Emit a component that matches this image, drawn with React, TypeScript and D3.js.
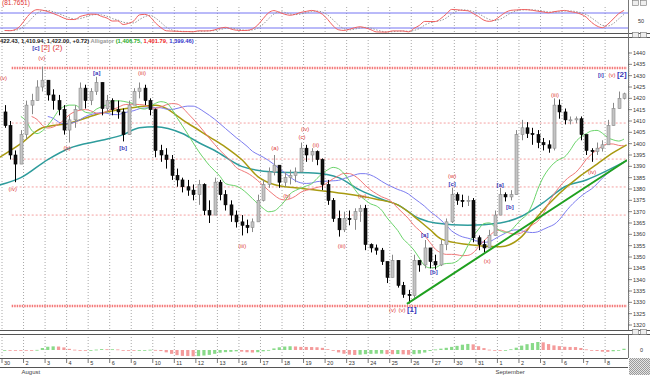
import * as d3 from 'd3'

// ---------- data ----------
const dayLabels = ['30', '2', '3', '4', '5', '6', '9', '10', '11', '12', '13', '16', '17', '18', '19', '20',
  '23', '24', '25', '26', '27', '30', '31', '1', '2', '3', '6', '7', '8']
const months = [{ tick: 1, name: 'August' }, { tick: 23, name: 'September' }]
const barsPerDay = 4

const opens = [1414, 1408, 1395, 1391, 1404, 1417, 1419, 1425, 1428, 1421.5,
  1419, 1415, 1406, 1410.5, 1415, 1424.5, 1419, 1423, 1427, 1415.5,
  1419, 1415, 1414, 1404, 1417, 1423, 1424.5, 1419, 1415, 1397,
  1395, 1393, 1386, 1384, 1381, 1379.5, 1377.5, 1382, 1370.5, 1368.5,
  1383, 1377.5, 1373, 1368.5, 1365.5, 1364, 1363, 1365.5, 1375, 1382,
  1387.5, 1390.5, 1383, 1385, 1386, 1387.5, 1398, 1395, 1396.5, 1393,
  1382, 1375, 1367, 1362, 1367, 1366.5, 1370, 1371.5, 1355.5, 1354,
  1353, 1348, 1341, 1348.5, 1337.5, 1333.5, 1333, 1348.5, 1346.5, 1354,
  1348, 1346.5, 1355.5, 1365.5, 1377.5, 1375, 1374.5, 1375, 1358.5, 1355.5,
  1354, 1359.5, 1368.5, 1377.5, 1376.5, 1377.5, 1404, 1407, 1404.5, 1404,
  1400.5, 1399.5, 1398, 1417, 1414, 1410.5, 1410.5, 1411, 1404, 1397,
  1396.5, 1398, 1399.5, 1408, 1415.5, 1420]
const highs = [1417, 1410, 1397, 1406, 1419, 1422, 1428, 1434, 1428, 1424,
  1421.5, 1417, 1412.5, 1417, 1427, 1426, 1424.5, 1429.5, 1426, 1421.5,
  1420, 1419, 1415.5, 1419, 1424.5, 1427, 1426, 1420, 1415.5, 1399.5,
  1398, 1395, 1389, 1385, 1384, 1382, 1384, 1382.5, 1375, 1385,
  1384, 1379.5, 1375, 1370.5, 1368.5, 1366.5, 1367, 1377.5, 1384, 1389.5,
  1395, 1390.5, 1387.5, 1388.5, 1389.5, 1400.5, 1399.5, 1398, 1397, 1393.5,
  1384, 1376, 1370.5, 1370, 1370.5, 1371.5, 1373, 1373, 1356, 1355.5,
  1354, 1348, 1351, 1348.5, 1339, 1335.5, 1351, 1348.5, 1357.5, 1354,
  1351, 1357.5, 1367, 1380.5, 1378.5, 1377.5, 1377, 1376, 1359.5, 1357.5,
  1362, 1370.5, 1380.5, 1378.5, 1379.5, 1406, 1410.5, 1409.5, 1407, 1406,
  1402.5, 1401.5, 1420, 1419.5, 1415.5, 1412, 1412, 1412, 1404, 1398,
  1400.5, 1401.5, 1410.5, 1418, 1423, 1422.5]
const lows = [1407, 1393, 1383, 1391, 1402, 1413, 1419, 1423, 1419, 1415,
  1412.5, 1404, 1400.5, 1407, 1417, 1415.5, 1417, 1421.5, 1412.5, 1414,
  1412.5, 1411, 1401, 1408, 1417, 1420, 1417, 1412.5, 1394, 1392,
  1389, 1384, 1381, 1378.5, 1377, 1375, 1373, 1368.5, 1365, 1373,
  1375, 1370.5, 1365.5, 1363, 1359.5, 1360.5, 1361, 1365.5, 1374.5, 1380.5,
  1386, 1380.5, 1381, 1382, 1383, 1387.5, 1392, 1392, 1390.5, 1379.5,
  1373, 1365.5, 1359, 1361, 1364, 1362, 1365.5, 1353, 1352, 1351,
  1346.5, 1338.5, 1342, 1336.5, 1332, 1329.5, 1332, 1343.5, 1345, 1345,
  1344.5, 1346, 1353, 1365, 1373, 1372, 1372.5, 1356.5, 1353, 1352,
  1354, 1359.5, 1368.5, 1374.5, 1375, 1377.5, 1401.5, 1402.5, 1399.5, 1398,
  1397, 1396, 1397, 1411, 1408.5, 1408.5, 1409, 1401.5, 1395, 1392,
  1395, 1396.5, 1400.5, 1408, 1415.5, 1419.5]
const closes = [1408, 1395, 1391, 1404, 1417, 1419, 1425, 1428, 1421.5, 1419,
  1415, 1406, 1410.5, 1415, 1424.5, 1419, 1423, 1427, 1415.5, 1419,
  1415, 1414, 1404, 1417, 1423, 1424.5, 1419, 1415, 1397, 1395,
  1393, 1386, 1384, 1381, 1379.5, 1377.5, 1382, 1370.5, 1368.5, 1383,
  1377.5, 1373, 1368.5, 1365.5, 1364, 1363, 1365.5, 1375, 1382, 1387.5,
  1390.5, 1383, 1385, 1386, 1387.5, 1398, 1395, 1396.5, 1393, 1382,
  1375, 1367, 1362, 1367, 1366.5, 1370, 1371.5, 1355.5, 1354, 1353,
  1348, 1341, 1348.5, 1337.5, 1333.5, 1333, 1348.5, 1346.5, 1354, 1348,
  1346.5, 1355.5, 1365.5, 1377.5, 1375, 1374.5, 1375, 1358.5, 1355.5, 1354,
  1359.5, 1368.5, 1377.5, 1376.5, 1377.5, 1404, 1407, 1404.5, 1404, 1400.5,
  1399.5, 1398, 1417, 1414, 1410.5, 1410.5, 1411, 1404, 1397, 1396.5,
  1398, 1399.5, 1408, 1415.5, 1420, 1422]

// retracement levels
const fibLevels = [1433.4, 1409.1, 1393.2, 1380.9, 1368.5, 1328.4]
const fibMain = [1433.4, 1328.4]
const fibStartBar = 1.8

// the two long averages, [bar, price]
const oliveMA: [number, number][] = [[-0.9, 1394], [3, 1400], [7, 1407], [12, 1409], [18, 1413.5], [24, 1416],
  [28, 1417], [34, 1409], [38, 1403], [41, 1398.5], [44, 1393], [47, 1385.5], [50, 1382], [54, 1380.5],
  [58, 1379.5], [63, 1378], [69, 1375.5], [73, 1373], [77, 1366], [79, 1362], [81, 1358], [86, 1355.5],
  [92, 1354.5], [96, 1359], [99, 1368], [103, 1378], [107, 1386], [110, 1391], [113, 1396], [115.5, 1399.5]]
const tealMA: [number, number][] = [[-0.9, 1381.8], [3, 1385], [8, 1393], [12, 1398], [18, 1401.5], [22, 1404],
  [25, 1407], [28, 1407.5], [33, 1404.5], [36, 1400.5], [39, 1397], [44, 1390], [50, 1387.5], [58, 1387],
  [62, 1385], [66, 1379.5], [70, 1375.5], [73, 1373], [77, 1367], [80, 1365], [86, 1364], [92, 1365],
  [96, 1368], [100, 1374], [104, 1381], [108, 1384], [110, 1386], [115.5, 1392.5]]

const trendLine: [number, number][] = [[74.7, 1329.3], [115.6, 1392.8]]

const redWaves = [
  { bar: -0.2, value: 1429, text: '(v)' }, { bar: 1.5, value: 1380, text: '(iv)' },
  { bar: 6.9, value: 1437.8, text: '(v)' }, { bar: 7.6, value: 1442.2, text: '[2]' },
  { bar: 9.8, value: 1442.2, text: '(2)' }, { bar: 11.6, value: 1398.1, text: '(b)' },
  { bar: 25.5, value: 1431.2, text: '(iii)' }, { bar: 44.1, value: 1354.9, text: '(iii)' },
  { bar: 50.2, value: 1398.1, text: '(a)' }, { bar: 52.4, value: 1376.9, text: '(b)' },
  { bar: 55.2, value: 1402.9, text: '(c)' }, { bar: 55.8, value: 1406.5, text: '(iv)' },
  { bar: 57.8, value: 1399.4, text: '(ii)' }, { bar: 62.6, value: 1354.9, text: '(iii)' },
  { bar: 66.4, value: 1376.9, text: '(iv)' }, { bar: 72.0, value: 1326.6, text: '(v)' },
  { bar: 73.8, value: 1326.6, text: '(v)' }, { bar: 83.1, value: 1385.7, text: '(w)' },
  { bar: 89.6, value: 1348.3, text: '(x)' }, { bar: 102.2, value: 1421.5, text: '(iii)' },
  { bar: 109.1, value: 1387.5, text: '(iv)' }, { bar: 112.8, value: 1430.3, text: '(v)' },
]
const blueWaves = [
  { bar: 5.8, value: 1442.2, text: '[c]' }, { bar: 17.1, value: 1431.2, text: '[a]' },
  { bar: 22.0, value: 1398.1, text: '[b]' }, { bar: 75.6, value: 1326.6, text: '[1]' },
  { bar: 78.0, value: 1359.7, text: '[a]' }, { bar: 79.7, value: 1343.4, text: '[b]' },
  { bar: 83.1, value: 1382.4, text: '[c]' }, { bar: 92.0, value: 1381.8, text: '[a]' },
  { bar: 93.8, value: 1372.1, text: '[b]' }, { bar: 110.7, value: 1430.3, text: '[i]' },
  { bar: 114.6, value: 1430.3, text: '[2]' },
]

const quote = '422.43, 1,410.94, 1,422.00, +0.72)'
const alligatorVals = ['1,406.75,', '1,401.79,', '1,399.46)']
const stochTitle = '(81.7651)'

// ---------- helpers ----------
const sma = (a: number[], n: number) => a.map((_, i) => d3.mean(a.slice(Math.max(0, i - n + 1), i + 1)) as number)
const smma = (a: number[], n: number) => {
  const out: number[] = []
  a.forEach((v, i) => out.push(i === 0 ? v : (out[i - 1] * (n - 1) + v) / n))
  return out
}

const FONT = "'Liberation Sans', Arial, sans-serif"
const PR = 627 // right edge of plotting area
const AX = 628 // right axis

export default function App() {
  const N = closes.length
  const x = d3.scaleLinear().domain([0, N]).range([2, 2 + N * 5.385])
  const cx = (b: number) => x(b + 0.5)
  const yP = d3.scaleLinear().domain([1320, 1440]).range([325, 53])
  const yS = d3.scaleLinear().domain([0, 100]).range([33, 8])

  const median = highs.map((h, i) => (h + lows[i]) / 2)
  const shifted = (s: number[], sh: number) => d3.range(sh, N).map(k => [k, s[k - sh]] as [number, number])
  const jaw = shifted(smma(median, 13), 8)
  const teeth = shifted(smma(median, 8), 5)
  const lips = shifted(smma(median, 5), 3)
  const pLine = d3.line<[number, number]>().x(d => cx(d[0])).y(d => yP(d[1])).curve(d3.curveMonotoneX)

  // stochastic (top panel)
  const rawK = closes.map((c, i) => {
    const lo = d3.min(lows.slice(Math.max(0, i - 13), i + 1))!
    const hi = d3.max(highs.slice(Math.max(0, i - 13), i + 1))!
    return hi === lo ? 50 : ((c - lo) / (hi - lo)) * 100
  })
  const kLine = sma(rawK, 3)
  const dLine = sma(kLine, 3)
  const oLine = d3.line<number>().x((_, i) => cx(i)).y(d => yS(d)).curve(d3.curveMonotoneX)

  // oscillator histogram (bottom panel)
  const fast = sma(median, 5)
  const slow = sma(median, 13)
  const ao = fast.map((v, i) => v - slow[i])
  const aoMax = d3.max(ao, d => Math.abs(d))!
  const yA = d3.scaleLinear().domain([-aoMax, aoMax]).range([358, 342])

  const ticks = dayLabels.map((_, i) => x(i * barsPerDay))
  const priceTicks = d3.range(1320, 1441, 5)
  const minorTicks = d3.range(1320, 1441, 1)

  const waveSize = (t: string) => (t === '(2)' || t === '[1]' || t === '[2]' ? 8 : 6)

  const strip = (y: number) => (
    <g>
      <rect x={0} y={y} width={650} height={4} fill="#fff" />
      <line x1={0} x2={650} y1={y + 0.5} y2={y + 0.5} stroke="#555" />
      <line x1={0} x2={650} y1={y + 4.5} y2={y + 4.5} stroke="#555" />
      <rect x={632.5} y={y - 0.5} width={6} height={5} fill="#eee" stroke="#777" strokeWidth={0.6} />
      <rect x={640.5} y={y - 0.5} width={6} height={5} fill="#eee" stroke="#777" strokeWidth={0.6} />
    </g>
  )

  return (
    <svg width={650} height={375} style={{ position: 'absolute', left: 0, top: 0, background: '#fff' }} fontFamily={FONT}>
      <defs>
        <clipPath id="pc"><rect x={0} y={38} width={PR} height={292} /></clipPath>
        <clipPath id="sc"><rect x={0} y={7} width={PR} height={26} /></clipPath>
        <clipPath id="ac"><rect x={0} y={339} width={PR} height={19} /></clipPath>
        <pattern id="chk" width={2} height={2} patternUnits="userSpaceOnUse">
          <rect width={2} height={2} fill="#e4e4e4" />
          <rect width={1} height={1} fill="#9a9a9a" />
          <rect x={1} y={1} width={1} height={1} fill="#9a9a9a" />
        </pattern>
      </defs>

      {/* vertical day grid */}
      {ticks.map((t, i) => (
        <line key={'g' + i} x1={t} x2={t} y1={7} y2={358} stroke="#a8a8a8" strokeDasharray="1,2" />
      ))}

      {/* ---- stochastic panel ---- */}
      <text x={2} y={5} fontSize={6.5} fill="#e03030">{stochTitle}</text>
      <line x1={0} x2={AX} y1={yS(80)} y2={yS(80)} stroke="#7474f2" />
      <line x1={0} x2={AX} y1={yS(20)} y2={yS(20)} stroke="#7474f2" />
      <g clipPath="url(#sc)">
        <path d={oLine(dLine)!} fill="none" stroke="#999" strokeWidth={1} strokeDasharray="1.5,1.5" />
        <path d={oLine(kLine)!} fill="none" stroke="#f06060" strokeWidth={1} />
      </g>
      <text x={638} y={yS(50) + 2} fontSize={5.5} fill="#333">50</text>

      {strip(33)}

      {/* ---- price panel ---- */}
      <text x={0} y={43} fontSize={5.8} fontWeight="bold">
        <tspan fill="#222">{quote} </tspan>
        <tspan fill="#999">Alligator </tspan>
        <tspan fill="#2a2">(</tspan>
        <tspan fill="#2a2">{alligatorVals[0]} </tspan>
        <tspan fill="#e22">{alligatorVals[1]} </tspan>
        <tspan fill="#33c">{alligatorVals[2]}</tspan>
      </text>

      <g clipPath="url(#pc)">
        {fibLevels.map((v, i) => {
          const main = fibMain.includes(v)
          return (
            <line key={'f' + i} x1={x(fibStartBar)} x2={PR} y1={yP(v)} y2={yP(v)}
              stroke={main ? '#f47878' : '#f4a0a0'} strokeWidth={main ? 2.4 : 1}
              strokeDasharray={main ? '1.5,1' : '2,2'} />
          )
        })}
        <path d={pLine(tealMA)!} fill="none" stroke="#2e9c9c" strokeWidth={1.5} />
        <path d={pLine(oliveMA)!} fill="none" stroke="#a89a10" strokeWidth={1.5} />
        <path d={pLine(jaw)!} fill="none" stroke="#7c7cf0" strokeWidth={1} />
        <path d={pLine(teeth)!} fill="none" stroke="#f07878" strokeWidth={1} />
        <path d={pLine(lips)!} fill="none" stroke="#6ad46a" strokeWidth={1} />

        {closes.map((c, k) => {
          const o = opens[k]
          const up = c >= o
          const hi = Math.max(highs[k], o, c)
          const lo = Math.min(lows[k], o, c)
          const top = yP(Math.max(o, c))
          const bh = Math.max(1, yP(Math.min(o, c)) - top)
          const xc = Math.round(cx(k)) + 0.5
          return (
            <g key={'c' + k}>
              <line x1={xc} x2={xc} y1={yP(hi)} y2={yP(lo)} stroke={up ? '#888' : '#000'} />
              <rect x={xc - 1.5} y={top} width={3} height={bh}
                fill={up ? '#c4c4c4' : '#111'} stroke={up ? '#8a8a8a' : '#000'} strokeWidth={0.6} />
            </g>
          )
        })}

        <path d={d3.line<[number, number]>().x(d => cx(d[0])).y(d => yP(d[1]))(trendLine)!}
          fill="none" stroke="#1fa01f" strokeWidth={2} />
      </g>

      {redWaves.map((w, i) => (
        <text key={'r' + i} x={cx(w.bar)} y={yP(w.value) + 2} textAnchor="middle"
          fontSize={waveSize(w.text)} fill="#e03a3a">{w.text}</text>
      ))}
      {blueWaves.map((w, i) => (
        <text key={'b' + i} x={cx(w.bar)} y={yP(w.value) + 2} textAnchor="middle"
          fontSize={waveSize(w.text)} fontWeight="bold" fill="#3838b8">{w.text}</text>
      ))}

      {/* right price axis */}
      <line x1={AX + 0.5} x2={AX + 0.5} y1={0} y2={358} stroke="#777" />
      {minorTicks.map(v => (
        <line key={'m' + v} x1={AX} x2={AX + 2} y1={yP(v)} y2={yP(v)} stroke="#999" strokeWidth={0.5} />
      ))}
      {priceTicks.map(v => (
        <g key={'p' + v}>
          <line x1={AX} x2={AX + 4} y1={yP(v)} y2={yP(v)} stroke="#555" strokeWidth={0.7} />
          <text x={633} y={yP(v) + 2} fontSize={5.5} fill="#333">{v}</text>
        </g>
      ))}

      {strip(330)}

      {/* ---- oscillator histogram panel ---- */}
      <g clipPath="url(#ac)">
        {ao.map((v, k) => {
          const rising = k === 0 ? v >= 0 : v > ao[k - 1]
          const y0 = yA(0)
          const y1 = yA(v)
          return (
            <rect key={'a' + k} x={cx(k) - 1.6} y={Math.min(y0, y1)} width={3.2}
              height={Math.max(0.8, Math.abs(y1 - y0))}
              fill={rising ? '#74d474' : '#f28a8a'} opacity={0.85} />
          )
        })}
      </g>
      <text x={640} y={yA(0) + 2} fontSize={5.5} fill="#333">0</text>

      {/* ---- date axis ---- */}
      <rect x={0} y={358} width={AX} height={9} fill="#fff" />
      <line x1={0} x2={AX} y1={358.5} y2={358.5} stroke="#555" />
      <line x1={0} x2={AX} y1={367.5} y2={367.5} stroke="#555" />
      {ticks.map((t, i) => (
        <g key={'t' + i}>
          <line x1={t} x2={t} y1={359} y2={363} stroke="#444" strokeWidth={0.7} />
          <text x={t + 2} y={365} fontSize={5.5} fill="#333">{dayLabels[i]}</text>
        </g>
      ))}
      {months.map(m => (
        <text key={m.name} x={ticks[m.tick] - 2} y={373.5} fontSize={6} fill="#444">{m.name}</text>
      ))}
      <rect x={629} y={358} width={21} height={17} fill="url(#chk)" />
      <rect x={632.5} y={0.5} width={6} height={5} fill="#eee" stroke="#777" strokeWidth={0.6} />
      <rect x={640.5} y={0.5} width={6} height={5} fill="#eee" stroke="#777" strokeWidth={0.6} />
    </svg>
  )
}
